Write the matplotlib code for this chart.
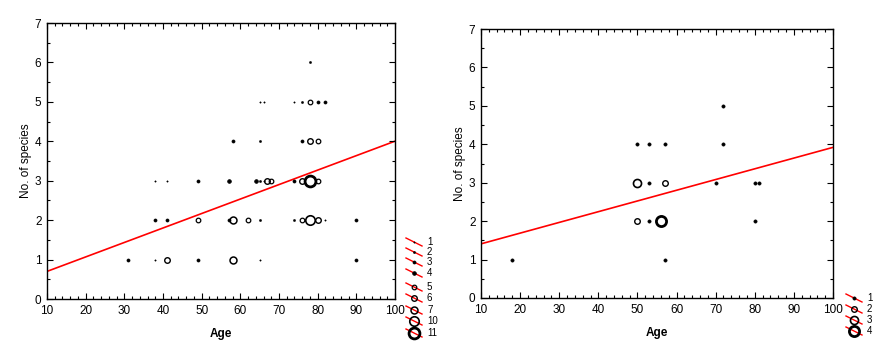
import numpy as np
import matplotlib.pyplot as plt
from matplotlib.ticker import MultipleLocator

plt.rcParams['font.family'] = ['Liberation Sans', 'DejaVu Sans']

# Left panel: age, number of species, frequency (overlapping cases)
left_age = [31, 38, 41, 49, 58, 65, 90,
            38, 41, 49, 57, 58, 62, 65, 74, 76, 78, 80, 82, 90,
            38, 41, 49, 57, 64, 65, 66, 67, 68, 74, 76, 78, 80,
            58, 65, 76, 78, 80,
            65, 66, 74, 76, 78, 80, 82,
            78]
left_species = [1, 1, 1, 1, 1, 1, 1,
                2, 2, 2, 2, 2, 2, 2, 2, 2, 2, 2, 2, 2,
                3, 3, 3, 3, 3, 3, 3, 3, 3, 3, 3, 3, 3,
                4, 4, 4, 4, 4,
                5, 5, 5, 5, 5, 5, 5,
                6]
left_freq = [3, 1, 6, 3, 7, 1, 3,
             3, 3, 5, 3, 7, 5, 2, 2, 5, 10, 6, 1, 3,
             1, 1, 3, 4, 4, 2, 1, 6, 5, 3, 6, 11, 5,
             3, 2, 3, 6, 5,
             1, 1, 1, 2, 5, 3, 3,
             2]
left_levels = [1, 2, 3, 4, 5, 6, 7, 10, 11]
left_fit = (0.333, 0.0367)  # intercept, slope

# Right panel
right_age = [18, 57,
             50, 53, 56, 80,
             50, 53, 57, 70, 80, 81,
             50, 53, 57, 72,
             72]
right_species = [1, 1,
                 2, 2, 2, 2,
                 3, 3, 3, 3, 3, 3,
                 4, 4, 4, 4,
                 5]
right_freq = [1, 1,
              2, 1, 4, 1,
              3, 1, 2, 1, 1, 1,
              1, 1, 1, 1,
              1]
right_levels = [1, 2, 3, 4]
right_fit = (1.13, 0.0279)

# marker look per frequency: (size, filled, edge width)
left_style = {1: (1.0, True, 0.3), 2: (1.5, True, 0.4), 3: (2.2, True, 0.5),
              4: (2.6, True, 0.6), 5: (3.3, False, 0.9), 6: (4.0, False, 1.0),
              7: (5.0, False, 1.1), 10: (6.8, False, 1.2), 11: (7.8, False, 2.0)}
right_style = {1: (2.3, True, 0.5), 2: (4.0, False, 1.0),
               3: (5.8, False, 1.2), 4: (7.3, False, 2.0)}

W, H = 886, 360
fig = plt.figure(figsize=(W / 100, H / 100), dpi=100)


def draw_marker(ax, x, y, st, **kw):
    ms, filled, lw = st
    ax.plot([x], [y], marker='o', ms=ms, mec='black',
            mfc='black' if filled else 'none', mew=lw, ls='none', **kw)


def panel(rect, age, species, freq, style, fit):
    ax = fig.add_axes(rect)
    x = np.array([10, 100])
    ax.plot(x, fit[0] + fit[1] * x, color='red', lw=1.2, zorder=1)
    for a, s, f in zip(age, species, freq):
        draw_marker(ax, a, s, style[f], zorder=3)
    ax.set_xlim(10, 100)
    ax.set_ylim(0, 7)
    ax.xaxis.set_major_locator(MultipleLocator(10))
    ax.xaxis.set_minor_locator(MultipleLocator(2))
    ax.yaxis.set_major_locator(MultipleLocator(1))
    ax.yaxis.set_minor_locator(MultipleLocator(0.5))
    ax.tick_params(which='both', direction='in', top=True, right=True,
                   labelsize=8.5, width=0.8)
    ax.tick_params(which='major', length=4, pad=4)
    ax.tick_params(which='minor', length=2)
    for sp in ax.spines.values():
        sp.set_linewidth(1.0)
    ax.set_xlabel('Age', fontweight='bold', fontsize=8.5, labelpad=8)
    ax.set_ylabel('No. of species', fontsize=8.5, labelpad=2)
    return ax


panel([47 / W, 61 / H, 348 / W, 276 / H], left_age, left_species, left_freq,
      left_style, left_fit)
panel([481 / W, 62 / H, 352 / W, 269 / H], right_age, right_species, right_freq,
      right_style, right_fit)

# legends drawn in pixel space
ov = fig.add_axes([0, 0, 1, 1])
ov.set_xlim(0, W)
ov.set_ylim(H, 0)
ov.axis('off')


def legend(x0, ys, levels, style):
    for y, lv in zip(ys, levels):
        ov.plot([x0, x0 + 16], [y - 4, y + 4], color='red', lw=1.0)
        draw_marker(ov, x0 + 8, y, style[lv])
        ov.text(x0 + 21, y, str(lv), fontsize=7, va='center', ha='left')


legend(406, [242, 252, 262, 273, 287, 298, 310, 321, 333], left_levels, left_style)
legend(846, [298, 309, 320, 331], right_levels, right_style)

fig.savefig('out.png', dpi=100)
